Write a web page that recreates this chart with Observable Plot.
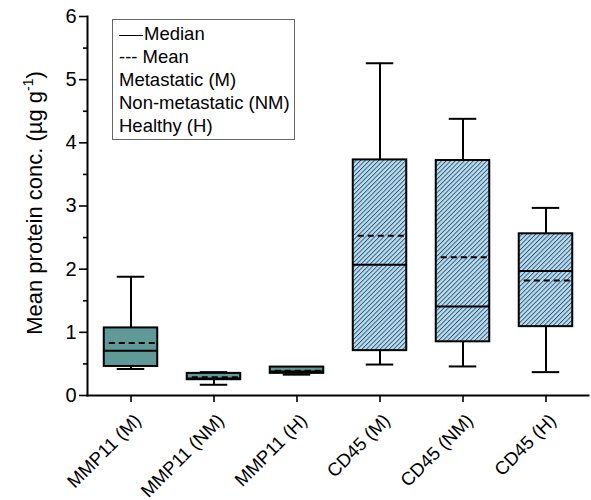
<!DOCTYPE html>
<html>
<head>
<meta charset="utf-8">
<script src="https://cdn.jsdelivr.net/npm/d3@7"></script>
<script src="https://cdn.jsdelivr.net/npm/@observablehq/plot@0.6"></script>
<style>
  body { margin: 0; background: white; }
  #wrap { position: relative; width: 591px; height: 500px; font-family: Arial, "Liberation Sans", sans-serif; }
  #legend { position: absolute; left: 112px; top: 19px; width: 183px; height: 121px; border: 1px solid #666; box-sizing: border-box; font-size: 18.5px; color: #000; padding: 2px 0 0 6px; line-height: 23px; background: white; }
  #legend .ln { display: inline-block; width: 24px; border-top: 1.2px solid #000; vertical-align: middle; margin-right: 1px; }
</style>
</head>
<body>
<div id="wrap"></div>
<script>
const categories = ["MMP11 (M)", "MMP11 (NM)", "MMP11 (H)", "CD45 (M)", "CD45 (NM)", "CD45 (H)"];
const groups = ["MMP11", "MMP11", "MMP11", "CD45", "CD45", "CD45"];
const whiskerLow = [0.42, 0.17, 0.33, 0.49, 0.46, 0.37];
const q1 = [0.46, 0.25, 0.35, 0.71, 0.85, 1.09];
const median = [0.71, 0.27, 0.38, 2.07, 1.41, 1.97];
const mean = [0.83, 0.29, 0.39, 2.53, 2.19, 1.82];
const q3 = [1.07, 0.35, 0.45, 3.73, 3.72, 2.56];
const whiskerHigh = [1.88, 0.37, 0.45, 5.26, 4.38, 2.97];
const majorTicks = [0, 1, 2, 3, 4, 5, 6];
const minorTicks = [0.5, 1.5, 2.5, 3.5, 4.5, 5.5];
const legendLines = ["Metastatic (M)", "Non-metastatic (NM)", "Healthy (H)"];

const rows = categories.map((c, i) => ({
  cat: c, group: groups[i], lo: whiskerLow[i], q1: q1[i], med: median[i],
  mean: mean[i], q3: q3[i], hi: whiskerHigh[i]
}));

const boxInset = 14.75, capInset = 27.75;
const fillOf = d => d.group === "MMP11" ? "#5f9a99" : "url(#hatch)";

const chart = Plot.plot({
  width: 591, height: 500,
  marginLeft: 87, marginRight: 3, marginTop: 16, marginBottom: 105,
  x: {domain: categories, padding: 0, axis: null},
  y: {domain: [0, 6], axis: null},
  style: {fontFamily: "Arial, 'Liberation Sans', sans-serif", fontSize: "18px", color: "#000", background: "white"},
  marks: [
    Plot.axisY(minorTicks, {tickSize: 4, tickFormat: () => "", label: null, strokeWidth: 1.6}),
    Plot.axisY(majorTicks, {tickSize: 8, tickPadding: 3, fontSize: 20, tickFormat: d3.format("d"), label: null, strokeWidth: 1.6}),
    Plot.axisX(categories, {tickSize: 7, tickFormat: () => "", label: null, strokeWidth: 1.6}),
    Plot.text(categories, {x: d => d, frameAnchor: "bottom", rotate: -45, textAnchor: "end", lineAnchor: "middle", dx: 7, dy: 22, fontSize: 18.5}),
    Plot.ruleX(rows, {x: "cat", y1: "lo", y2: "q1", strokeWidth: 2}),
    Plot.ruleX(rows, {x: "cat", y1: "q3", y2: "hi", strokeWidth: 2}),
    Plot.tickY(rows, {x: "cat", y: "lo", strokeWidth: 2, insetLeft: capInset, insetRight: capInset}),
    Plot.tickY(rows, {x: "cat", y: "hi", strokeWidth: 2, insetLeft: capInset, insetRight: capInset}),
    Plot.barY(rows, {x: "cat", y1: "q1", y2: "q3", fill: fillOf, stroke: "#000", strokeWidth: 2, insetLeft: boxInset, insetRight: boxInset}),
    Plot.tickY(rows, {x: "cat", y: "med", strokeWidth: 2, insetLeft: boxInset, insetRight: boxInset}),
    Plot.tickY(rows, {x: "cat", y: "mean", strokeWidth: 2, strokeDasharray: "6,4", insetLeft: boxInset + 5, insetRight: boxInset + 1}),
    Plot.frame({anchor: "left", strokeWidth: 2}),
    Plot.frame({anchor: "bottom", strokeWidth: 2})
  ]
});

const svg = d3.select(chart);
const defs = svg.insert("defs", ":first-child");
const pat = defs.append("pattern").attr("id", "hatch").attr("patternUnits", "userSpaceOnUse")
  .attr("width", 3.2).attr("height", 3.2).attr("patternTransform", "rotate(45)");
pat.append("rect").attr("width", 3.2).attr("height", 3.2).attr("fill", "#b4def6");
pat.append("line").attr("x1", 0.5).attr("y1", 0).attr("x2", 0.5).attr("y2", 3.2)
  .attr("stroke", "#2c3c4c").attr("stroke-width", 0.8);

const lab = svg.append("text")
  .attr("transform", "translate(42,203) rotate(-90)")
  .attr("text-anchor", "middle")
  .attr("font-size", 22)
  .attr("fill", "#000");
lab.append("tspan").text("Mean protein conc. (µg g");
lab.append("tspan").attr("font-size", 14).attr("dy", -9).text("-1");
lab.append("tspan").attr("dy", 9).text(")");

const wrap = document.getElementById("wrap");
wrap.appendChild(chart);
const legend = document.createElement("div");
legend.id = "legend";
legend.innerHTML = `<div><span class="ln"></span>Median</div><div>--- Mean</div>` +
  legendLines.map(t => `<div>${t}</div>`).join("");
wrap.appendChild(legend);
</script>
</body>
</html>
